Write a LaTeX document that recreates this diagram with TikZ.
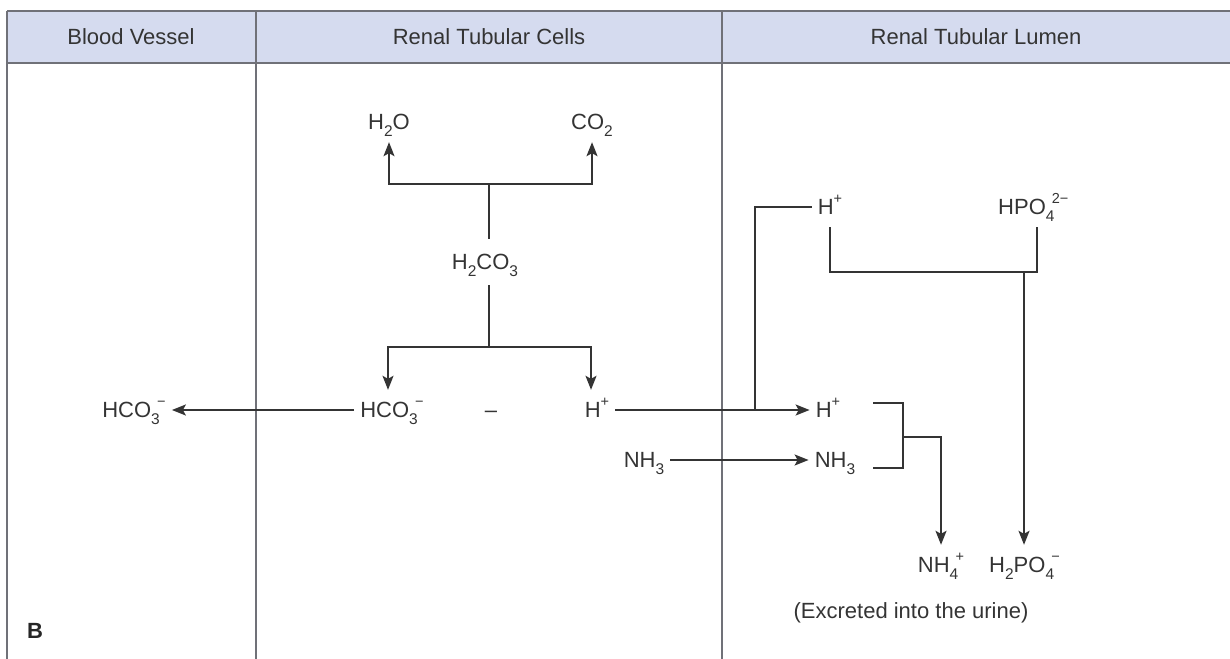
\documentclass[tikz,border=0pt]{standalone}
\usepackage{fontspec}
\setmainfont{Liberation Sans}
\usepackage{tikz}
\usetikzlibrary{arrows.meta,positioning,calc}
\definecolor{headfill}{RGB}{213,219,239}
\definecolor{rulegray}{RGB}{112,113,120}
\definecolor{inkgray}{RGB}{52,52,52}
\newcommand{\chsub}[1]{\raisebox{-0.32em}{\fontsize{15.5}{15}\selectfont #1}}
\newcommand{\chsup}[1]{\raisebox{0.5em}{\fontsize{14.5}{14}\selectfont #1}}
\newcommand{\chion}[2]{\chsub{#1}\kern-0.12em\chsup{#2}}

\begin{document}
\begin{tikzpicture}[x=1pt,y=-1pt,font=\fontsize{22}{26}\selectfont,>={Stealth[length=14pt,width=11pt,inset=3pt]}]
\tikzset{chem/.style={inner xsep=6pt,inner ysep=12pt,text height=15pt,text depth=1pt,text=inkgray},
  head/.style={text=inkgray},
  flow/.style={draw=inkgray,line width=1.7pt},
  rule/.style={draw=rulegray,line width=1.8pt}}
\useasboundingbox (0,0) rectangle (1230,658);
% table frame
\fill[headfill] (7,11) rectangle (1236,63);
\foreach \x in {7,256,722}{\draw[rule] (\x,11) -- (\x,666);}
\draw[rule,line width=2.6pt] (7,11) -- (1236,11) (7,63) -- (1236,63);
\node[head] (hdblood) at (131,37) {Blood Vessel};
\node[head] (hdcell) at (489,37) {Renal Tubular Cells};
\node[head] (hdlumen) at (976,37) {Renal Tubular Lumen};
% species
\node[chem] (h2o) at (389,122) {H\chsub{2}O};
\node[chem] (co2) at (592,122) {CO\chsub{2}};
\node[chem,inner ysep=15pt] (h2co3) at (485,262) {H\chsub{2}CO\chsub{3}};
\node[chem] (hcocell) at (392,410) {HCO\chion{3}{−}};
\node[chem] (dash) at (491,410) {–};
\node[chem] (hcell) at (597,410) {H\chsup{+}};
\node[chem] (hcoblood) at (134,410) {HCO\chion{3}{−}};
\node[chem] (hlum) at (828,410) {H\chsup{+}};
\node[chem] (nhcell) at (644,460) {NH\chsub{3}};
\node[chem] (nhlum) at (835,460) {NH\chsub{3}};
\node[chem] (hlumtop) at (830,207) {H\chsup{+}};
\node[chem,anchor=west] (hpo) at (992,207) {HPO\chion{4}{2−}};
\node[chem] (nhiv) at (941,565) {NH\chion{4}{+}};
\node[chem,anchor=west] (hiipo) at (983,565) {H\chsub{2}PO\chion{4}{−}};
\node[head] (urine) at (911,613) {(Excreted into the urine)};
\node[font=\fontsize{22}{26}\selectfont\bfseries,text=black!85] (panel) at (35,631) {B};
% connectors
\coordinate (split) at (489,184);
\coordinate (fork) at (489,347);
\draw[flow] (split |- h2co3.north) -- (split);
\draw[flow,->] (split) -| (h2o);
\draw[flow,->] (split) -| (co2);
\draw[flow] (fork |- h2co3.south) -- (fork);
\draw[flow,->] (fork) -| ([xshift=-4pt]hcocell.north);
\draw[flow,->] (fork) -| ([xshift=-6pt]hcell.north);
\draw[flow,->] (hcocell) -- (hcoblood);
\draw[flow,->] (hcell) -- (hlum);
\coordinate (hjoin) at (755,410);
\draw[flow] (hlumtop) -| (hjoin);
\draw[flow,->] (nhcell) -- (nhlum);
\coordinate (pbar) at (1037,272);
\draw[flow] (hlumtop) |- (pbar) -- (pbar |- hpo.south);
\coordinate (pdrop) at (1024,272);
\draw[flow,->] (pdrop) -- (pdrop |- hiipo.north);
\coordinate (bka) at (873,403);
\coordinate (bkb) at (873,468);
\coordinate (bkmid) at (903,437);
\draw[flow] (bka) -| (bkmid) |- (bkb);
\draw[flow,->] (bkmid) -| (nhiv);
\end{tikzpicture}
\end{document}
